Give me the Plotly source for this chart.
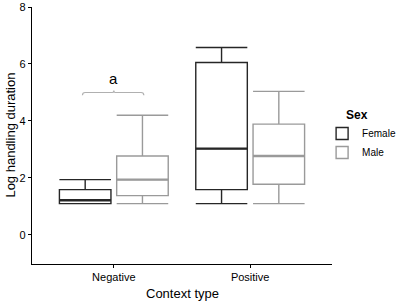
import plotly.graph_objects as go

contexts = ["Negative", "Positive"]
sexes = ["Female", "Male"]
colors = {"Female": "#262626", "Male": "#9a9a9a"}

# box statistics (log handling duration)
lower = {"Female": [1.10, 1.10], "Male": [1.10, 1.10]}
q1 = {"Female": [1.10, 1.59], "Male": [1.38, 1.78]}
median = {"Female": [1.22, 3.03], "Male": [1.94, 2.77]}
q3 = {"Female": [1.59, 6.05], "Male": [2.77, 3.89]}
upper = {"Female": [1.94, 6.58], "Male": [4.20, 5.04]}

bracket_y = 5.0
bracket_label = "a"
x_title = "Context type"
y_title = "Log handling duration"
legend_title = "Sex"

fig = go.Figure()
for s in sexes:
    fig.add_trace(go.Box(
        x=contexts, name=s,
        lowerfence=lower[s], q1=q1[s], median=median[s], q3=q3[s], upperfence=upper[s],
        line=dict(color=colors[s], width=1.4), fillcolor="white",
        whiskerwidth=1, boxpoints=False, hoverinfo="skip",
    ))

boxgap = 0.16
groupgap = 0.1
slot = (1 - boxgap) / 2
bw = slot * (1 - groupgap)
shapes = []
for j, s in enumerate(sexes):
    off = (j - 0.5) * slot
    for i, m in enumerate(median[s]):
        shapes.append(dict(type="line", xref="x", yref="y",
                           x0=i + off - bw / 2, x1=i + off + bw / 2, y0=m, y1=m,
                           line=dict(color=colors[s], width=2.4)))

# bracket over Negative group
x0b, x1b = -slot / 2 - 0.02, slot / 2 + 0.01
d = 0.1
path = (f"M {x0b} {bracket_y - d} Q {x0b} {bracket_y} {x0b + 0.02} {bracket_y} "
        f"L {-0.01} {bracket_y} Q 0 {bracket_y} 0 {bracket_y + 0.07} "
        f"Q 0 {bracket_y} 0.01 {bracket_y} L {x1b - 0.02} {bracket_y} "
        f"Q {x1b} {bracket_y} {x1b} {bracket_y - d}")
shapes.append(dict(type="path", xref="x", yref="y", path=path,
                   line=dict(color="#b0b0b0", width=1.2)))

fig.update_layout(
    width=403, height=304,
    margin=dict(l=32, r=71, t=7, b=40, autoexpand=False),
    plot_bgcolor="white", paper_bgcolor="white",
    boxmode="group", boxgap=boxgap, boxgroupgap=groupgap,
    font=dict(family="Liberation Sans, Arial", color="black", size=11),
    shapes=shapes,
    annotations=[
        dict(x=0, y=bracket_y + 0.12, xref="x", yref="y", text=bracket_label,
             showarrow=False, yanchor="bottom", font=dict(size=15, color="black")),
        dict(x=0.5, y=-0.113, xref="paper", yref="paper", xanchor="center", yanchor="middle",
             text=x_title, showarrow=False, font=dict(size=13)),
        dict(x=-0.073, y=0.5, xref="paper", yref="paper", xanchor="center", yanchor="middle",
             text=y_title, showarrow=False, textangle=-90, font=dict(size=13)),
        dict(x=1.04, y=0.58, xref="paper", yref="paper", xanchor="left", yanchor="middle",
             text=f"<b>{legend_title}</b>", showarrow=False, font=dict(size=12)),
    ],
    legend=dict(x=0.967, xanchor="left", y=0.471, yanchor="middle",
                font=dict(size=10), itemwidth=30, tracegroupgap=4),
    xaxis=dict(type="category", range=[-0.6, 1.6], showline=True, linecolor="black",
               linewidth=1.2, ticks="outside", ticklen=3, tickcolor="black",
               tickfont=dict(size=11), showgrid=False, zeroline=False, automargin=False),
    yaxis=dict(range=[-1.02, 8.0], showline=True, linecolor="black", linewidth=1.2,
               ticks="outside", ticklen=3, tickcolor="black",
               tickvals=[0, 2, 4, 6, 8], tickfont=dict(size=11),
               showgrid=False, zeroline=False, automargin=False),
)

fig.write_html("out.html", config={"displayModeBar": False},
               post_script="document.body.style.margin='0';")
